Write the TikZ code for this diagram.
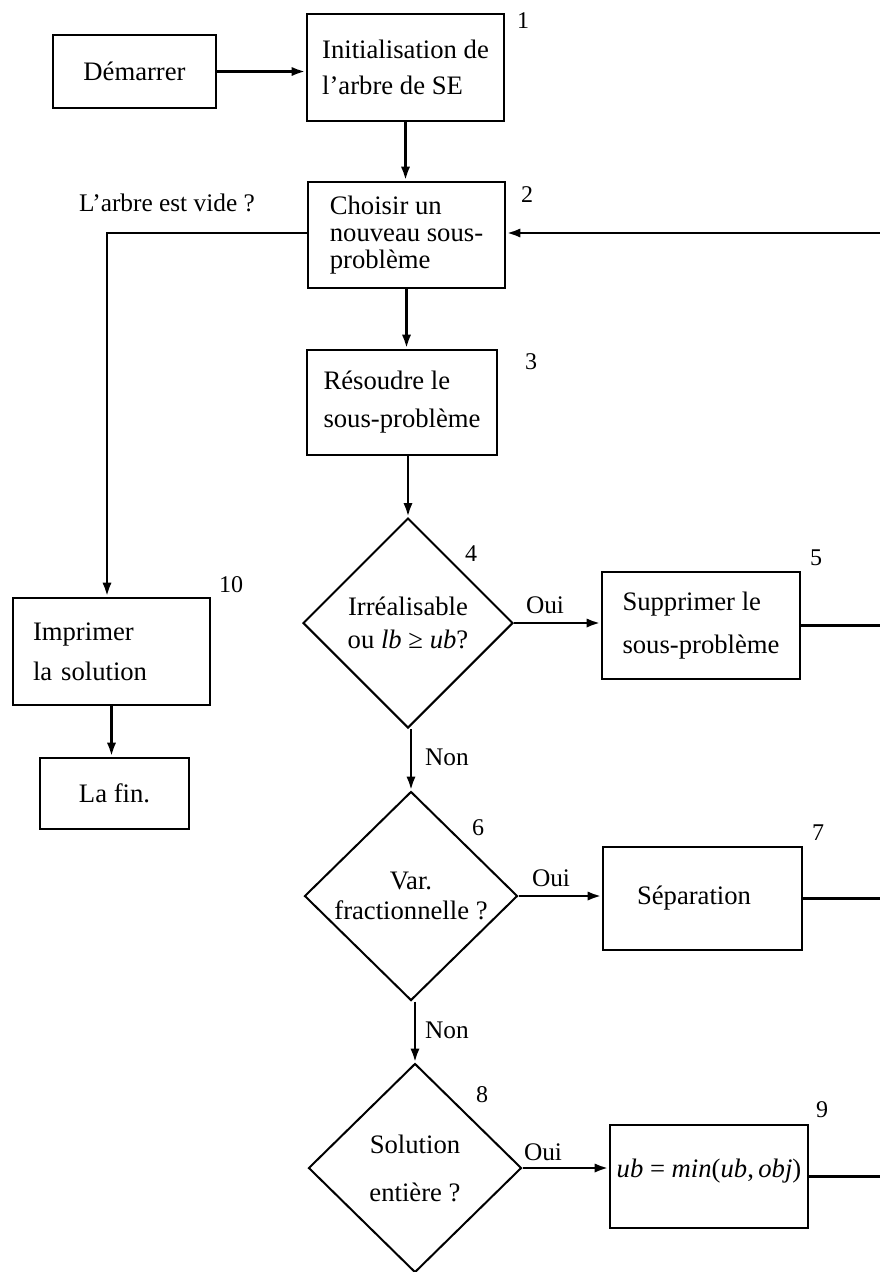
\documentclass[tikz,border=0pt]{standalone}
\usepackage{fontspec}
\setmainfont{Liberation Serif}
\usetikzlibrary{shapes.geometric,arrows.meta}
\begin{document}
\begin{tikzpicture}[x=0.75pt,y=-0.75pt,
  box/.style={draw, line width=2.1pt, inner sep=0pt, align=left},
  dia/.style={draw, diamond, line width=1.5pt, inner sep=0pt, align=center, aspect=1},
  num/.style={inner sep=0pt, font=\fontsize{18}{20}\selectfont},
  lab/.style={inner sep=0pt, font=\fontsize{19}{22}\selectfont},
  arr/.style={line width=2.1pt, -{Latex[length=10.5pt,width=7pt]}},
  ln/.style={line width=2.1pt},
]
\useasboundingbox (0,0) rectangle (880,1272);
\clip (0,0) rectangle (880,1272);
\coordinate (edge) at (886,0);

% boxes
\node[box, minimum width=122.25pt, minimum height=54.75pt, font=\fontsize{20}{24}\selectfont] (dem) at (134.5,71.5) {Démarrer};
\node[box, minimum width=147.75pt, minimum height=80.25pt, font=\fontsize{20}{27}\selectfont] (b1) at (405.5,67.5) {Initialisation de\\l’arbre de SE};
\node[box, minimum width=147.75pt, minimum height=79.5pt, font=\fontsize{20}{20.5}\selectfont] (b2) at (406.5,235) {Choisir un\\nouveau sous-\\problème};
\node[box, minimum width=142.5pt, minimum height=78.75pt, font=\fontsize{20}{28.5}\selectfont] (b3) at (402,402.5) {Résoudre le\\sous-problème};
\node[dia, minimum width=157.5pt, minimum height=157.5pt, font=\fontsize{20}{25}\selectfont] (d4) at (408,623) {Irréalisable\\ou \textit{lb} ≥ \textit{ub}?};
\node[box, minimum width=148.5pt, minimum height=80.25pt, font=\fontsize{20}{32}\selectfont] (b5) at (701,625.5) {Supprimer le\\sous-problème};
\node[dia, minimum width=159.75pt, minimum height=156.75pt, font=\fontsize{20}{22.5}\selectfont] (d6) at (411,896) {Var.\\fractionnelle ?};
\node[box, minimum width=149.25pt, minimum height=77.25pt, text width=98.25pt, font=\fontsize{20}{24}\selectfont] (b7) at (702.5,898.5) {Séparation};
\node[dia, minimum width=159.75pt, minimum height=156.75pt, font=\fontsize{20}{36}\selectfont] (d8) at (415,1168) {Solution\\entière ?};
\node[box, minimum width=148.5pt, minimum height=77.25pt, text depth=13pt, font=\fontsize{20}{24}\selectfont] (b9) at (709,1176.5) {\textit{ub} = \textit{min}(\textit{ub},\,\textit{obj})};
\node[box, minimum width=147.75pt, minimum height=80.25pt, text width=117.75pt, font=\fontsize{20}{30}\selectfont] (b10) at (111.5,651.5) {Imprimer\\la solution};
\node[box, minimum width=111.75pt, minimum height=53.25pt, font=\fontsize{20}{24}\selectfont] (fin) at (114.5,793.5) {La fin.};

% numbers
\node[num] (n1) at (523,21) {1};
\node[num] (n2) at (527,195) {2};
\node[num] (n3) at (531,362) {3};
\node[num] (n4) at (471,554) {4};
\node[num] (n5) at (816,558) {5};
\node[num] (n6) at (478,828) {6};
\node[num] (n7) at (818,833) {7};
\node[num] (n8) at (482,1095) {8};
\node[num] (n9) at (822,1110) {9};
\node[num] (n10) at (231,585) {10};

% labels
\node[lab] (q) at (167,203) {L’arbre est vide ?};
\node[lab] (oui1) at (545,605) {Oui};
\node[lab] (non1) at (447,757) {Non};
\node[lab] (oui2) at (551,878) {Oui};
\node[lab] (non2) at (447,1030) {Non};
\node[lab] (oui3) at (543,1152) {Oui};

% connectors
\coordinate (corner) at (107,233);
\draw[arr] (dem.east) -- (dem.east -| b1.west);
\draw[arr] (b1.south) -- (b1.south |- b2.north);
\draw[arr] (edge |- corner) -- (b2.east |- corner);
\draw[arr] (b2.west |- corner) -- (corner) -- (corner |- b10.north);
\draw[arr] (b2.south) -- (b2.south |- b3.north);
\draw[arr] (d4.north |- b3.south) -- (d4.north);
\draw[arr] (d4.east) -- (d4.east -| b5.west);
\draw[ln] (b5.east) -- (b5.east -| edge);
\draw[arr] (d6.north |- d4.south) -- (d6.north);
\draw[arr] (d6.east) -- (d6.east -| b7.west);
\draw[ln] (b7.east) -- (b7.east -| edge);
\draw[arr] (d8.north |- d6.south) -- (d8.north);
\draw[arr] (d8.east) -- (d8.east -| b9.west);
\draw[ln] (b9.east) -- (b9.east -| edge);
\draw[arr] (b10.south) -- (b10.south |- fin.north);
\end{tikzpicture}
\end{document}
